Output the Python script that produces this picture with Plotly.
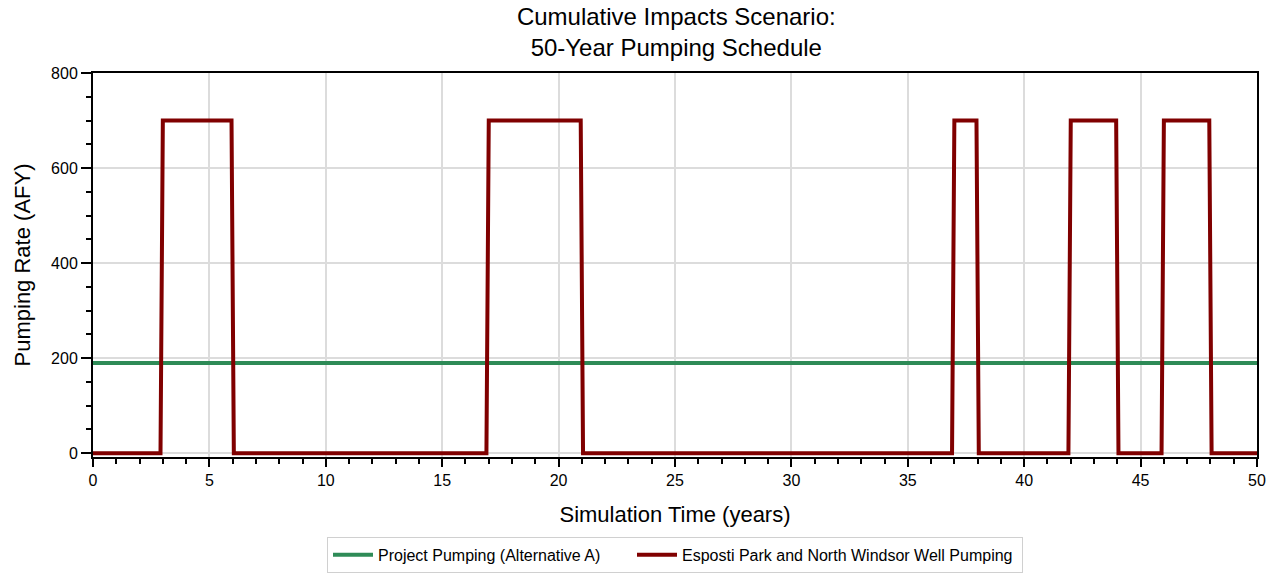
import plotly.graph_objects as go

# Data
project_years = [0, 50]
project_rate = [190, 190]

esposti_years = [0, 2.9, 3.0, 5.95, 6.05, 16.9, 17.0, 20.95, 21.05, 36.9, 37.0, 37.95, 38.05,
                 41.9, 42.0, 43.95, 44.05, 45.9, 46.0, 47.95, 48.05, 50]
esposti_rate = [0, 0, 700, 700, 0, 0, 700, 700, 0, 0, 700, 700, 0,
                0, 700, 700, 0, 0, 700, 700, 0, 0]

FONT = "Liberation Sans, Arial, sans-serif"

fig = go.Figure()
fig.add_trace(go.Scatter(x=project_years, y=project_rate, mode="lines",
                         name="Project Pumping (Alternative A)      ",
                         line=dict(color="#2e8b57", width=4)))
fig.add_trace(go.Scatter(x=esposti_years, y=esposti_rate, mode="lines",
                         name="Esposti Park and North Windsor Well Pumping ",
                         line=dict(color="#800000", width=4)))

fig.update_layout(
    width=1277, height=584,
    margin=dict(l=93, r=20, t=73, b=126),
    paper_bgcolor="white", plot_bgcolor="white",
    font=dict(family=FONT, color="black", size=16),
    title=dict(text="Cumulative Impacts Scenario:<br>50-Year Pumping Schedule",
               x=0.5296, xanchor="center", y=0.957, yanchor="middle",
               font=dict(size=24, family=FONT)),
    legend=dict(orientation="h", x=0.5, xanchor="center", y=-0.205, yanchor="top",
                bordercolor="#d0d0d0", borderwidth=1, font=dict(size=16),
                itemwidth=40, tracegroupgap=0),
    showlegend=True,
)
fig.update_xaxes(range=[0, 50], tickmode="linear", tick0=0, dtick=5,
                 ticks="outside", ticklen=8, tickwidth=2, tickcolor="black",
                 minor=dict(dtick=1, ticks="outside", ticklen=5, tickwidth=2, tickcolor="black", showgrid=False),
                 showgrid=True, gridcolor="#dcdcdc", gridwidth=1.5,
                 showline=True, linecolor="black", linewidth=2, mirror=True,
                 zeroline=False,
                 title=dict(text="Simulation Time (years)", font=dict(size=22), standoff=18),
                 tickfont=dict(size=16))
fig.update_yaxes(range=[-8, 800], tickmode="array", tickvals=[0, 200, 400, 600, 800],
                 ticks="outside", ticklen=10, tickwidth=2, tickcolor="black",
                 minor=dict(tickvals=[50, 100, 150, 250, 300, 350, 450, 500, 550, 650, 700, 750],
                            ticks="outside", ticklen=5, tickwidth=2, tickcolor="black", showgrid=False),
                 showgrid=True, gridcolor="#dcdcdc", gridwidth=1.5,
                 showline=True, linecolor="black", linewidth=2, mirror=True,
                 zeroline=False,
                 title=dict(text="Pumping Rate (AFY)", font=dict(size=22), standoff=14),
                 tickfont=dict(size=16))

fig.write_html("out.html", config={"displayModeBar": False},
               post_script="document.body.style.margin='0px';")
